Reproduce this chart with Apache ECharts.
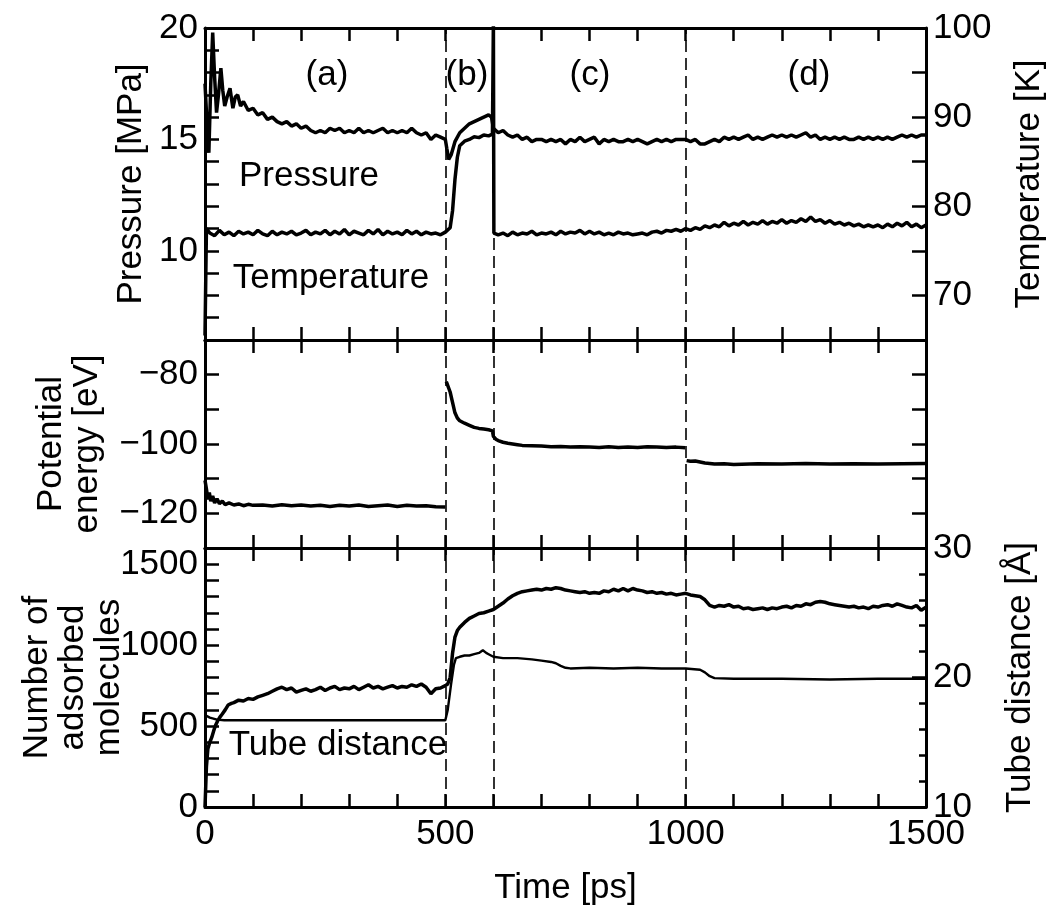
<!DOCTYPE html>
<html>
<head>
<meta charset="utf-8">
<script src="https://cdn.jsdelivr.net/npm/echarts@6/dist/echarts.min.js"></script>
<style>html,body{margin:0;padding:0;background:#fff;}#c{width:1051px;height:912px;}</style>
</head>
<body>
<div id="c"></div>
<script>
// ---------------- data ----------------
const timeTicks = [0, 500, 1000, 1500];
const phaseBoundaries = [500, 600, 1000];
const regionLabels = ['(a)', '(b)', '(c)', '(d)'];

// Pressure [MPa]
const pressureTime = [0,4,8,12,16,20,24,28,33,37,41,46,52,58,63,68,74,80,90,100,
 110,120,130,140,150,160,170,180,190,200,210,220,230,240,250,260,270,280,290,300,
 310,320,330,340,350,360,370,380,390,400,410,420,430,440,450,460,470,480,490,500,
 503,507,512,520,530,540,550,560,570,580,590,596,600,
 610,620,630,640,650,660,670,680,690,700,710,720,730,740,750,760,770,780,790,800,
 810,820,830,840,850,860,870,880,890,900,910,920,930,940,950,960,970,980,990,1000,
 1010,1020,1030,1040,1050,1060,1070,1080,1090,1100,1110,1120,1130,1140,1150,1160,1170,1180,1190,1200,
 1210,1220,1230,1240,1250,1260,1270,1280,1290,1300,1310,1320,1330,1340,1350,1360,1370,1380,1390,1400,
 1410,1420,1430,1440,1450,1460,1470,1480,1490,1500];
const pressureVal = [17.5,15.8,14.4,17.5,19.8,17.8,16.2,17.0,18.2,17.2,16.5,16.9,17.3,16.4,16.9,17.0,16.5,16.7,16.3,16.4,
 16.1,16.2,15.9,16.0,15.8,15.7,15.8,15.6,15.7,15.5,15.6,15.4,15.3,15.4,15.3,15.5,15.4,15.5,15.3,15.4,
 15.3,15.5,15.3,15.4,15.3,15.4,15.5,15.3,15.4,15.3,15.4,15.3,15.5,15.3,15.2,15.3,15.0,15.2,15.1,15.0,
 14.6,14.1,14.3,14.9,15.3,15.5,15.7,15.8,15.9,16.0,16.1,16.0,15.5,
 15.3,15.4,15.2,15.1,15.2,15.0,15.1,14.9,15.0,15.0,14.9,15.0,14.9,15.0,14.8,15.0,14.9,15.1,14.9,15.0,
 15.1,14.8,15.0,14.9,15.0,14.9,14.9,15.0,14.9,15.0,14.9,14.8,14.9,15.0,14.9,15.0,14.9,15.0,15.0,15.0,
 14.9,15.0,14.8,14.8,14.9,15.0,14.9,15.1,15.0,15.1,15.0,15.1,15.2,15.0,15.1,15.0,15.1,15.2,15.1,15.2,
 15.1,15.2,15.1,15.2,15.3,15.1,15.2,15.0,15.1,15.0,15.1,15.0,15.1,15.0,15.0,15.1,15.0,15.1,15.0,15.1,
 15.0,15.1,15.0,15.1,15.2,15.1,15.2,15.1,15.2,15.2];

// Temperature [K]
const tempTime = [0,3,10,20,30,40,50,60,70,80,90,100,110,120,130,140,150,160,170,180,190,200,
 210,220,230,240,250,260,270,280,290,300,310,320,330,340,350,360,370,380,390,400,
 410,420,430,440,450,460,470,480,490,500,
 510,515,520,525,530,540,550,560,570,580,590,598,600,601,
 610,620,630,640,650,660,670,680,690,700,710,720,730,740,750,760,770,780,790,800,
 810,820,830,840,850,860,870,880,890,900,910,920,930,940,950,960,970,980,990,1000,
 1010,1020,1030,1040,1050,1060,1070,1080,1090,1100,1110,1120,1130,1140,1150,1160,1170,1180,1190,1200,
 1210,1220,1230,1240,1250,1260,1270,1280,1290,1300,1310,1320,1330,1340,1350,1360,1370,1380,1390,1400,
 1410,1420,1430,1440,1450,1460,1470,1480,1490,1500];
const tempVal = [65.5,77.5,77.0,76.7,77.3,76.8,77.1,76.7,77.2,76.9,77.1,76.8,77.3,76.9,76.7,77.2,76.8,77.1,76.9,77.2,76.8,77.0,
 77.3,76.8,77.1,76.9,77.3,76.8,77.2,76.9,77.4,76.8,77.2,77.0,76.8,77.3,76.9,77.4,76.8,77.2,76.9,77.1,
 76.8,77.3,76.9,77.2,76.8,77.1,76.9,77.0,76.8,77.1,
 77.6,79.5,83.0,85.5,86.8,87.3,87.5,87.8,87.7,88.0,87.9,88.1,101,77.0,
 76.8,77.0,76.7,77.1,76.8,77.0,76.9,77.2,76.8,77.0,76.9,77.1,76.8,77.2,76.9,77.1,77.0,77.3,76.9,77.2,
 76.9,77.1,76.8,77.0,76.8,77.1,76.9,77.0,76.8,76.9,77.0,76.8,77.1,77.2,77.0,77.3,77.2,77.4,77.2,77.5,
 77.3,77.6,77.4,77.8,77.6,77.9,77.7,78.2,77.8,78.1,77.9,78.3,77.9,78.2,78.0,78.4,78.0,78.3,78.1,78.5,
 78.1,78.4,78.2,78.6,78.3,78.8,78.3,78.5,78.1,78.4,78.0,78.2,77.9,78.1,77.8,78.0,77.7,77.9,77.7,77.9,
 77.6,78.0,77.7,78.1,77.8,78.2,77.7,78.0,77.6,77.9];

// Potential energy [eV] (null = break between stages)
const peTime = [0,3,6,9,12,16,20,25,30,36,42,50,60,70,80,90,100,120,140,160,180,200,220,240,260,280,300,
 320,340,360,380,400,420,440,460,480,500,501,
 502,505,510,515,520,525,530,540,550,560,570,580,590,598,
 600,605,610,620,630,640,650,660,680,700,720,740,760,780,800,820,840,860,880,900,920,940,960,980,999,1000,
 1002,1010,1020,1030,1040,1050,1060,1080,1100,1150,1200,1250,1300,1350,1400,1450,1500];
const peVal = [-110.5,-113,-116,-114,-116.5,-115,-117,-115.8,-117.2,-116.5,-117.5,-117.0,-117.6,-117.3,-117.8,-117.4,-117.7,-117.6,-117.9,-117.5,-117.8,-117.6,-117.9,-117.7,-118.0,-117.7,-117.9,
 -117.6,-118.0,-117.8,-117.6,-118.0,-117.7,-117.9,-117.8,-118.1,-118.2,null,
 -82.0,-82.5,-85,-88,-91,-92.5,-93.3,-94,-94.6,-95.2,-95.5,-95.7,-95.9,-96.2,
 -97.8,-98.6,-99.0,-99.5,-99.8,-100.0,-100.2,-100.4,-100.5,-100.6,-100.8,-100.7,-100.9,-100.8,-100.9,-101.0,-100.8,-101.0,-100.9,-101.0,-100.8,-100.9,-101.0,-100.9,-101.1,null,
 -104.8,-105.0,-104.9,-105.2,-105.5,-105.6,-105.8,-105.7,-105.9,-105.7,-105.8,-105.6,-105.8,-105.7,-105.8,-105.7,-105.6];

// Number of adsorbed molecules
const nTime = [0,3,6,10,14,18,22,26,31,36,42,48,55,60,70,80,90,100,110,120,130,140,150,160,170,180,190,200,
 210,220,230,240,250,260,270,280,290,300,310,320,330,340,350,360,370,380,390,400,
 410,420,430,440,450,460,470,480,490,500,
 505,510,515,520,525,530,540,550,560,570,580,590,600,
 610,620,630,640,650,660,670,680,690,700,710,720,730,740,750,760,770,780,790,800,
 810,820,830,840,850,860,870,880,890,900,910,920,930,940,950,960,970,980,990,1000,
 1010,1020,1030,1040,1050,1060,1070,1080,1090,1100,1110,1120,1130,1140,1150,1160,1170,1180,1190,1200,
 1210,1220,1230,1240,1250,1260,1270,1280,1290,1300,1310,1320,1330,1340,1350,1360,1370,1380,1390,1400,
 1410,1420,1430,1440,1450,1460,1470,1480,1490,1500];
const nVal = [0,250,360,400,430,470,505,530,555,575,600,630,640,645,660,655,670,665,680,690,700,715,730,740,725,735,710,720,
 730,715,725,740,720,735,745,725,735,730,745,725,740,755,735,745,730,740,750,735,
 745,740,755,745,760,740,700,730,735,750,
 760,800,950,1050,1090,1110,1140,1165,1180,1195,1200,1210,1220,
 1240,1260,1285,1305,1320,1330,1335,1340,1345,1340,1350,1345,1355,1350,1340,1335,1330,1325,1330,1320,
 1325,1320,1335,1330,1345,1335,1350,1335,1350,1340,1335,1325,1330,1320,1325,1315,1320,1310,1315,1320,
 1310,1305,1300,1280,1245,1235,1245,1240,1250,1235,1240,1225,1230,1220,1225,1230,1220,1230,1225,1235,
 1240,1230,1245,1240,1255,1250,1265,1270,1265,1255,1250,1245,1240,1235,1240,1230,1235,1225,1240,1235,
 1245,1250,1240,1255,1245,1235,1230,1245,1215,1235];

// Tube distance [Å]
const tubeTime = [0,10,25,40,100,200,300,400,500,505,512,518,522,530,540,550,560,570,578,585,590,600,
 620,650,680,700,720,730,740,750,760,800,850,900,950,1000,1030,1040,1050,1060,1100,1200,1300,1400,1500];
const tubeVal = [17.1,16.9,16.75,16.7,16.7,16.7,16.7,16.7,16.7,17.5,19.5,21.0,21.5,21.6,21.7,21.7,21.8,21.9,22.1,21.9,21.8,21.6,
 21.5,21.5,21.4,21.3,21.2,21.1,20.9,20.75,20.7,20.75,20.7,20.75,20.7,20.7,20.6,20.4,20.1,19.95,19.9,19.9,19.85,19.9,19.9];

// ---------------- chart ----------------
const FONT = 'Liberation Sans';
const FS = 35;
const BLACK = '#000';
const zip = (t, v) => t.map((x, i) => [x, v[i]]);

const chart = echarts.init(document.getElementById('c'), null, {renderer: 'canvas'});

const grids = [
  {left: 205, right: 125, top: 28, height: 312, outerBoundsMode: 'none', containLabel: false},
  {left: 205, right: 125, top: 340, height: 208, outerBoundsMode: 'none', containLabel: false},
  {left: 205, right: 125, top: 548, height: 259, outerBoundsMode: 'none', containLabel: false}
];

function xAxisFor(gi, pos, showLabels, name) {
  return {
    type: 'value', gridIndex: gi, position: pos, min: 0, max: 1500, interval: 100,
    axisLine: {show: true, onZero: false, lineStyle: {color: BLACK, width: 3}},
    axisTick: {show: true, inside: true, length: 13, lineStyle: {color: BLACK, width: 2.5}},
    axisLabel: {show: showLabels, color: BLACK, fontFamily: FONT, fontSize: FS, margin: 10,
      formatter: v => timeTicks.indexOf(v) >= 0 ? String(v) : ''},
    splitLine: {show: false},
    name: name || '', nameLocation: 'middle', nameGap: 64, nameMoveOverlap: false,
    nameTextStyle: {color: BLACK, fontFamily: FONT, fontSize: FS}
  };
}

function yAxisFor(gi, pos, min, max, interval, fmt, name, nameGap, extra) {
  return Object.assign({
    type: 'value', gridIndex: gi, position: pos, min: min, max: max, interval: interval,
    axisLine: {show: true, onZero: false, lineStyle: {color: BLACK, width: 3}},
    axisTick: {show: true, inside: true, length: 14, lineStyle: {color: BLACK, width: 2.5}},
    axisLabel: {show: !!fmt, color: BLACK, fontFamily: FONT, fontSize: FS, margin: 7, formatter: fmt || undefined},
    splitLine: {show: false},
    name: name || '', nameLocation: 'middle', nameRotate: 90, nameGap: nameGap || 0, nameMoveOverlap: false,
    nameTextStyle: {color: BLACK, fontFamily: FONT, fontSize: FS, lineHeight: 36}
  }, extra || {});
}

const dashed = {
  symbol: ['none', 'none'], silent: true, label: {show: false},
  lineStyle: {color: BLACK, width: 1.6, type: [12, 6]},
  data: phaseBoundaries.map(b => ({xAxis: b}))
};

function lineSeries(name, xi, yi, data, width, ml) {
  const s = {
    name: name, type: 'line', xAxisIndex: xi, yAxisIndex: yi, data: data,
    showSymbol: false, symbol: 'none', connectNulls: false, animation: false,
    lineStyle: {color: BLACK, width: width}, itemStyle: {color: BLACK}, z: 3
  };
  if (ml) s.markLine = ml;
  return s;
}

function label(text, x, y) {
  return {type: 'text', x: x, y: y, style: {text: text, font: FS + 'px ' + FONT, fill: BLACK, textAlign: 'center', textVerticalAlign: 'middle'}};
}

const option = {
  animation: false,
  backgroundColor: '#fff',
  grid: grids,
  xAxis: [
    xAxisFor(0, 'bottom', false), xAxisFor(0, 'top', false),
    xAxisFor(1, 'bottom', false), xAxisFor(1, 'top', false),
    xAxisFor(2, 'bottom', true, 'Time [ps]'), xAxisFor(2, 'top', false)
  ],
  yAxis: [
    yAxisFor(0, 'left', 6, 20, 1, v => (v % 5 === 0 ? String(v) : ''), 'Pressure [MPa]', 56),
    yAxisFor(0, 'right', 65, 100, 5, v => (v % 10 === 0 ? String(v) : ''), 'Temperature [K]', 85),
    yAxisFor(1, 'left', -130, -70, 10, v => (v % 20 === 0 ? '\u2212' + Math.abs(v) : ''), 'Potential\nenergy [eV]', 100),
    yAxisFor(1, 'right', -130, -70, 10, null, ''),
    yAxisFor(2, 'left', 0, 1600, 100, v => (v % 500 === 0 ? String(v) : ''), 'Number of\nadsorbed\nmolecules', 78),
    yAxisFor(2, 'right', 10, 30, 10, v => String(v), 'Tube distance [\u00C5]', 76,
      {minorTick: {show: true, splitNumber: 5, length: 7, lineStyle: {color: BLACK, width: 2.5}}})
  ],
  series: [
    lineSeries('Pressure', 0, 0, zip(pressureTime, pressureVal), 3.5, dashed),
    lineSeries('Temperature', 0, 1, zip(tempTime, tempVal), 3.5),
    lineSeries('Potential energy', 2, 2, zip(peTime, peVal), 3.5, dashed),
    lineSeries('Number of adsorbed molecules', 4, 4, zip(nTime, nVal), 3.5, dashed),
    lineSeries('Tube distance', 4, 5, zip(tubeTime, tubeVal), 2.4)
  ],
  graphic: [
    label(regionLabels[0], 327, 75),
    label(regionLabels[1], 467, 75),
    label(regionLabels[2], 590, 75),
    label(regionLabels[3], 809, 75),
    label('Pressure', 309, 176),
    label('Temperature', 331, 278),
    label('Tube distance', 338, 745)
  ]
};

chart.setOption(option);
</script>
</body>
</html>
